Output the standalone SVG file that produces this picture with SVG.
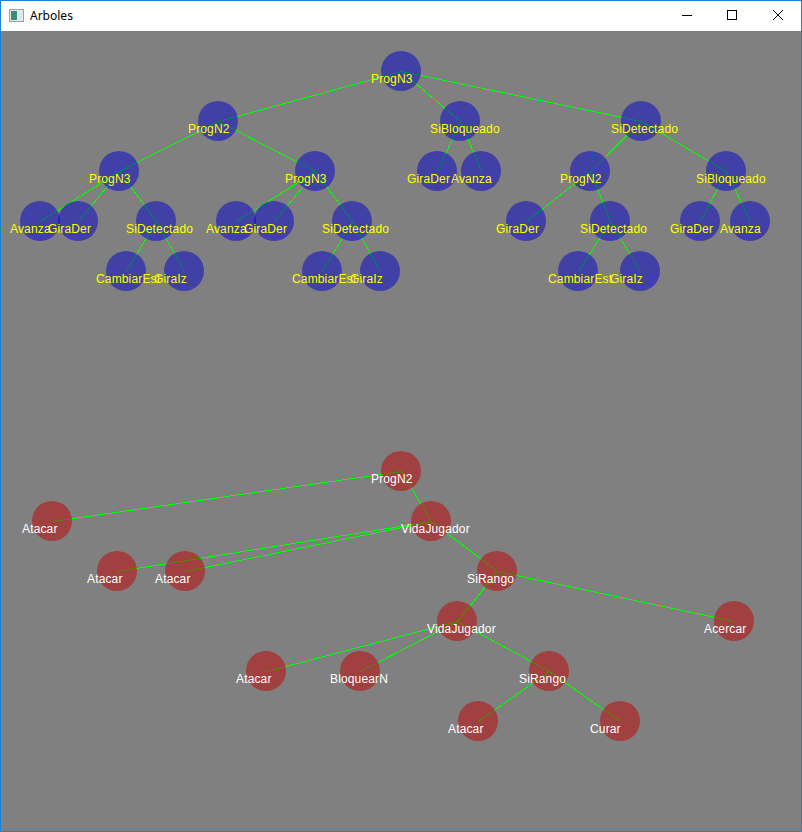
<svg xmlns="http://www.w3.org/2000/svg" width="802" height="832" viewBox="0 0 802 832">
<style>
.lbl{font-family:"Liberation Sans",Arial,sans-serif;font-size:12px;letter-spacing:0.15px}
.b circle{fill:rgb(0,0,204);fill-opacity:0.5}
.b text{fill:#ffff00}
.r circle{fill:rgb(192,0,0);fill-opacity:0.5}
.r text{fill:#ffffff}
#connectors line{stroke:#00ff00;stroke-width:1}
.btn{stroke:#000;stroke-width:1;fill:none}
</style>
<g id="window">
<rect x="0" y="0" width="802" height="832" fill="#1883d7"/>
<rect x="1" y="1" width="800" height="30" fill="#ffffff"/>
<rect x="1" y="31" width="800" height="800" fill="#808080"/>
<g id="icon">
<rect x="9.5" y="9.5" width="14" height="12" fill="#e8e8e8" stroke="#a0a0a0"/>
<rect x="11" y="11" width="6" height="9" fill="#3c8c78"/>
<rect x="18" y="11" width="4" height="9" fill="#d8e8f0"/>
</g>
<text x="30" y="20" font-family="'Noto Sans','Liberation Sans',sans-serif" font-size="12" fill="#000">Arboles</text>
<line class="btn" x1="682" y1="15.5" x2="692" y2="15.5"/>
<rect class="btn" x="727.5" y="10.5" width="9" height="9"/>
<line class="btn" x1="773" y1="10" x2="783" y2="20"/>
<line class="btn" x1="783" y1="10" x2="773" y2="20"/>
</g>
<g id="connectors" shape-rendering="crispEdges">
<line x1="401.5" y1="71.5" x2="218.5" y2="121.5"/>
<line x1="401.5" y1="71.5" x2="460.5" y2="121.5"/>
<line x1="401.5" y1="71.5" x2="641.5" y2="121.5"/>
<line x1="218.5" y1="121.5" x2="119.5" y2="171.5"/>
<line x1="218.5" y1="121.5" x2="315.5" y2="171.5"/>
<line x1="119.5" y1="171.5" x2="40.5" y2="221.5"/>
<line x1="119.5" y1="171.5" x2="78.5" y2="221.5"/>
<line x1="119.5" y1="171.5" x2="156.5" y2="221.5"/>
<line x1="156.5" y1="221.5" x2="126.5" y2="271.5"/>
<line x1="156.5" y1="221.5" x2="184.5" y2="271.5"/>
<line x1="315.5" y1="171.5" x2="236.5" y2="221.5"/>
<line x1="315.5" y1="171.5" x2="274.5" y2="221.5"/>
<line x1="315.5" y1="171.5" x2="352.5" y2="221.5"/>
<line x1="352.5" y1="221.5" x2="322.5" y2="271.5"/>
<line x1="352.5" y1="221.5" x2="380.5" y2="271.5"/>
<line x1="460.5" y1="121.5" x2="437.5" y2="171.5"/>
<line x1="460.5" y1="121.5" x2="481.5" y2="171.5"/>
<line x1="641.5" y1="121.5" x2="590.5" y2="171.5"/>
<line x1="641.5" y1="121.5" x2="726.5" y2="171.5"/>
<line x1="590.5" y1="171.5" x2="526.5" y2="221.5"/>
<line x1="590.5" y1="171.5" x2="610.5" y2="221.5"/>
<line x1="610.5" y1="221.5" x2="578.5" y2="271.5"/>
<line x1="610.5" y1="221.5" x2="640.5" y2="271.5"/>
<line x1="726.5" y1="171.5" x2="700.5" y2="221.5"/>
<line x1="726.5" y1="171.5" x2="750.5" y2="221.5"/>
<line x1="401.5" y1="471.5" x2="52.5" y2="521.5"/>
<line x1="401.5" y1="471.5" x2="431.5" y2="521.5"/>
<line x1="431.5" y1="521.5" x2="117.5" y2="571.5"/>
<line x1="431.5" y1="521.5" x2="185.5" y2="571.5"/>
<line x1="431.5" y1="521.5" x2="497.5" y2="571.5"/>
<line x1="497.5" y1="571.5" x2="457.5" y2="621.5"/>
<line x1="497.5" y1="571.5" x2="734.5" y2="621.5"/>
<line x1="457.5" y1="621.5" x2="266.5" y2="671.5"/>
<line x1="457.5" y1="621.5" x2="360.5" y2="671.5"/>
<line x1="457.5" y1="621.5" x2="549.5" y2="671.5"/>
<line x1="549.5" y1="671.5" x2="478.5" y2="721.5"/>
<line x1="549.5" y1="671.5" x2="620.5" y2="721.5"/>
</g>
<g class="lbl">
<g id="t1" class="b"><circle cx="401" cy="71" r="20"/><text x="371" y="83">ProgN3</text></g>
<g id="t2" class="b"><circle cx="218" cy="121" r="20"/><text x="188" y="133">ProgN2</text></g>
<g id="t3" class="b"><circle cx="460" cy="121" r="20"/><text x="430" y="133">SiBloqueado</text></g>
<g id="t4" class="b"><circle cx="641" cy="121" r="20"/><text x="611" y="133">SiDetectado</text></g>
<g id="t5" class="b"><circle cx="119" cy="171" r="20"/><text x="89" y="183">ProgN3</text></g>
<g id="t6" class="b"><circle cx="315" cy="171" r="20"/><text x="285" y="183">ProgN3</text></g>
<g id="t7" class="b"><circle cx="437" cy="171" r="20"/><text x="407" y="183">GiraDer</text></g>
<g id="t8" class="b"><circle cx="481" cy="171" r="20"/><text x="451" y="183">Avanza</text></g>
<g id="t9" class="b"><circle cx="590" cy="171" r="20"/><text x="560" y="183">ProgN2</text></g>
<g id="t10" class="b"><circle cx="726" cy="171" r="20"/><text x="696" y="183">SiBloqueado</text></g>
<g id="t11" class="b"><circle cx="40" cy="221" r="20"/><text x="10" y="233">Avanza</text></g>
<g id="t12" class="b"><circle cx="78" cy="221" r="20"/><text x="48" y="233">GiraDer</text></g>
<g id="t13" class="b"><circle cx="156" cy="221" r="20"/><text x="126" y="233">SiDetectado</text></g>
<g id="t14" class="b"><circle cx="236" cy="221" r="20"/><text x="206" y="233">Avanza</text></g>
<g id="t15" class="b"><circle cx="274" cy="221" r="20"/><text x="244" y="233">GiraDer</text></g>
<g id="t16" class="b"><circle cx="352" cy="221" r="20"/><text x="322" y="233">SiDetectado</text></g>
<g id="t17" class="b"><circle cx="526" cy="221" r="20"/><text x="496" y="233">GiraDer</text></g>
<g id="t18" class="b"><circle cx="610" cy="221" r="20"/><text x="580" y="233">SiDetectado</text></g>
<g id="t19" class="b"><circle cx="700" cy="221" r="20"/><text x="670" y="233">GiraDer</text></g>
<g id="t20" class="b"><circle cx="750" cy="221" r="20"/><text x="720" y="233">Avanza</text></g>
<g id="t21" class="b"><circle cx="126" cy="271" r="20"/><text x="96" y="283">CambiarEst</text></g>
<g id="t22" class="b"><circle cx="184" cy="271" r="20"/><text x="154" y="283">GiraIz</text></g>
<g id="t23" class="b"><circle cx="322" cy="271" r="20"/><text x="292" y="283">CambiarEst</text></g>
<g id="t24" class="b"><circle cx="380" cy="271" r="20"/><text x="350" y="283">GiraIz</text></g>
<g id="t25" class="b"><circle cx="578" cy="271" r="20"/><text x="548" y="283">CambiarEst</text></g>
<g id="t26" class="b"><circle cx="640" cy="271" r="20"/><text x="610" y="283">GiraIz</text></g>
<g id="b1" class="r"><circle cx="401" cy="471" r="20"/><text x="371" y="483">ProgN2</text></g>
<g id="b2" class="r"><circle cx="52" cy="521" r="20"/><text x="22" y="533">Atacar</text></g>
<g id="b3" class="r"><circle cx="431" cy="521" r="20"/><text x="401" y="533">VidaJugador</text></g>
<g id="b4" class="r"><circle cx="117" cy="571" r="20"/><text x="87" y="583">Atacar</text></g>
<g id="b5" class="r"><circle cx="185" cy="571" r="20"/><text x="155" y="583">Atacar</text></g>
<g id="b6" class="r"><circle cx="497" cy="571" r="20"/><text x="467" y="583">SiRango</text></g>
<g id="b7" class="r"><circle cx="457" cy="621" r="20"/><text x="427" y="633">VidaJugador</text></g>
<g id="b8" class="r"><circle cx="734" cy="621" r="20"/><text x="704" y="633">Acercar</text></g>
<g id="b9" class="r"><circle cx="266" cy="671" r="20"/><text x="236" y="683">Atacar</text></g>
<g id="b10" class="r"><circle cx="360" cy="671" r="20"/><text x="330" y="683">BloquearN</text></g>
<g id="b11" class="r"><circle cx="549" cy="671" r="20"/><text x="519" y="683">SiRango</text></g>
<g id="b12" class="r"><circle cx="478" cy="721" r="20"/><text x="448" y="733">Atacar</text></g>
<g id="b13" class="r"><circle cx="620" cy="721" r="20"/><text x="590" y="733">Curar</text></g>
</g>
</svg>
